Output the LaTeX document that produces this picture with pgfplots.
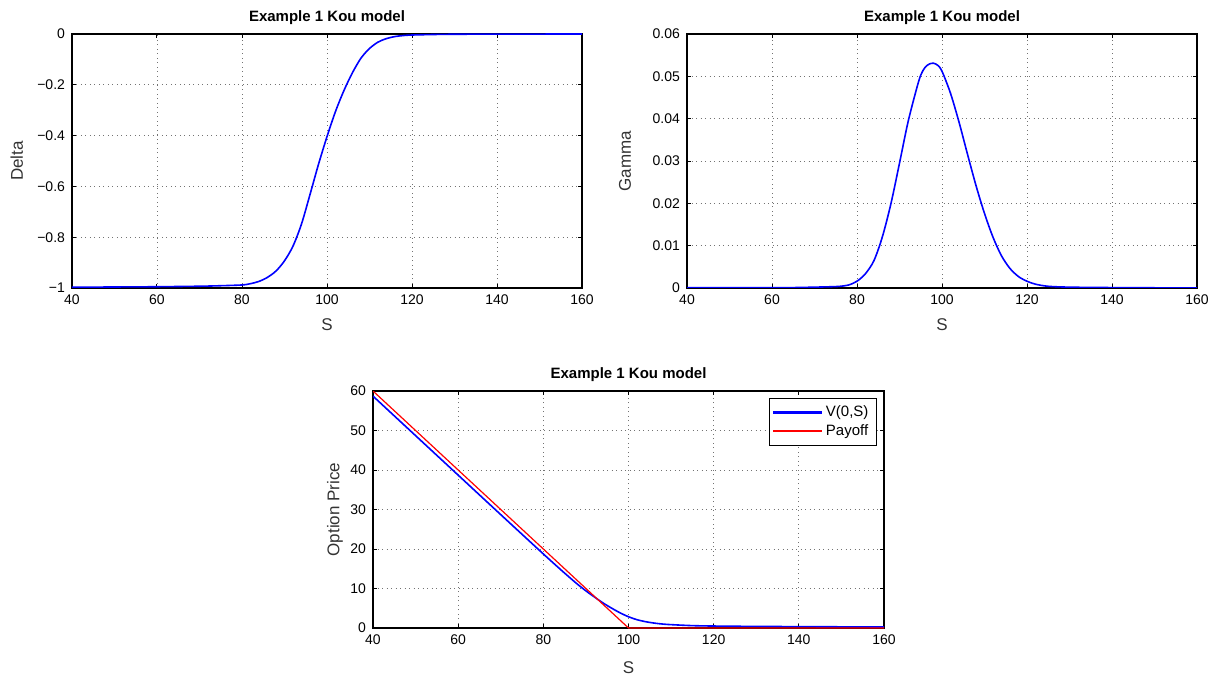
\documentclass[border=0pt]{standalone}
\usepackage{fontspec}
\setmainfont{Liberation Sans}
\usepackage{pgfplots}
\pgfplotsset{compat=1.18}
\pgfplotsset{
  mat/.style={
    scale only axis,
    xmin=40, xmax=160,
    xtick={40,60,80,100,120,140,160},
    scaled x ticks=false, scaled y ticks=false,
    tick align=inside,
    major tick length=2pt,
    grid=major,
    major grid style={black!55, line width=0.4pt, dash pattern=on 0.45pt off 1.8pt},
    axis line style={black, line width=0.55pt},
    tick style={black, line width=0.5pt},
    tick label style={font=\fontsize{7}{8}\selectfont},
    /pgf/number format/assume math mode=true,
    label style={font=\fontsize{8.5}{10}\selectfont, color=black!80},
    every axis title shift=0pt,
    title style={font=\fontsize{7.5}{9}\selectfont\bfseries},
    xlabel={S},
  }
}
\definecolor{mblue}{RGB}{0,0,255}
\definecolor{mred}{RGB}{255,0,0}
\begin{document}
\begin{tikzpicture}
\useasboundingbox (0,0) rectangle (610.5pt,340.5pt);
% Delta
\begin{axis}[mat,
  at={(36pt,196.5pt)}, anchor=south west,
  width=255pt, height=127pt,
  ymin=-1, ymax=0,
  ytick={-1,-0.8,-0.6,-0.4,-0.2,0},
  yticklabels={−1,−0.8,−0.6,−0.4,−0.2,0},
  ylabel={Delta},
  title={Example 1 Kou model},
  title style={at={(axis description cs:0.5,1.065)}, anchor=center},
  xlabel style={at={(axis description cs:0.5,-0.1457)}, anchor=center},
  ylabel style={at={(axis description cs:-0.108,0.5)}, anchor=center},
]
\addplot[mblue, line width=0.8pt, smooth] coordinates {
(40,-0.997) (50,-0.996) (60,-0.995) (70,-0.993) (75,-0.991) (80,-0.988)
(82,-0.983) (84,-0.974) (86,-0.958) (88,-0.933) (90,-0.893) (92,-0.835)
(94,-0.748) (96,-0.632) (98,-0.513) (100,-0.404) (102,-0.305) (104,-0.222)
(106,-0.152) (108,-0.095) (110,-0.057) (112,-0.032) (114,-0.018) (116,-0.010)
(118,-0.006) (120,-0.004) (125,-0.002) (130,-0.001) (140,-0.0005) (160,0)
};
\end{axis}
% Gamma
\begin{axis}[mat,
  at={(343.5pt,196.5pt)}, anchor=south west,
  width=255pt, height=127pt,
  ymin=0, ymax=0.06,
  ytick={0,0.01,0.02,0.03,0.04,0.05,0.06},
  yticklabels={0,0.01,0.02,0.03,0.04,0.05,0.06},
  ylabel={Gamma},
  title={Example 1 Kou model},
  title style={at={(axis description cs:0.5,1.065)}, anchor=center},
  xlabel style={at={(axis description cs:0.5,-0.1457)}, anchor=center},
  ylabel style={at={(axis description cs:-0.1216,0.5)}, anchor=center},
]
\addplot[mblue, line width=0.8pt, smooth] coordinates {
(40,0.0001) (50,0.0001) (60,0.0001) (65,0.0001) (70,0.0002) (74,0.0003)
(76,0.0004) (78,0.0007) (80,0.0016) (82,0.0034) (84,0.0065) (86,0.0122)
(88,0.0200) (90,0.0295) (92,0.0392) (94,0.0470) (95,0.0503) (96,0.0521)
(97,0.0529) (98,0.0531) (99,0.0526) (100,0.0512) (102,0.0460) (104,0.0392)
(106,0.0316) (108,0.0242) (110,0.0176) (112,0.0120) (114,0.0076) (116,0.0046)
(118,0.0027) (120,0.0016) (122,0.0009) (125,0.0004) (130,0.0002) (140,0.0001) (160,0.0)
};
\end{axis}
% Option price
\begin{axis}[mat,
  at={(186.5pt,26.5pt)}, anchor=south west,
  width=255.5pt, height=118.5pt,
  ymin=0, ymax=60,
  ytick={0,10,20,30,40,50,60},
  ylabel={Option Price},
  title={Example 1 Kou model},
  title style={at={(axis description cs:0.5,1.07)}, anchor=center},
  xlabel style={at={(axis description cs:0.5,-0.169)}, anchor=center},
  ylabel style={at={(axis description cs:-0.0744,0.5)}, anchor=center},
  legend style={at={(axis description cs:0.986,0.97)}, anchor=north east,
    font=\fontsize{7.5}{9}\selectfont,
    inner xsep=2pt, inner ysep=1.5pt, row sep=-1.5pt,
    legend cell align=left},
]
\addlegendimage{legend image code/.code={\fill[mblue] (0pt,-0.35pt) rectangle (24pt,0.35pt);}}
\addlegendentry{V(0,S)}
\addlegendimage{legend image code/.code={\fill[mred] (0pt,-0.25pt) rectangle (24pt,0.25pt);}}
\addlegendentry{Payoff}
\addplot[mblue, line width=0.8pt, smooth, forget plot] coordinates {
(40,58.7) (50,48.7) (60,38.7) (70,28.7) (80,18.75) (84,14.85) (86,12.95)
(88,11.1) (90,9.4) (92,7.85) (94,6.35) (96,5.05) (98,3.85) (100,2.85)
(102,2.1) (104,1.6) (106,1.25) (108,1.0) (110,0.85) (115,0.6) (120,0.5)
(130,0.4) (140,0.35) (150,0.3) (160,0.25)
};
\addplot[mred, line width=0.6pt, forget plot] coordinates {
(40,60) (100,0) (160,0)
};
\end{axis}
\end{tikzpicture}
\end{document}
